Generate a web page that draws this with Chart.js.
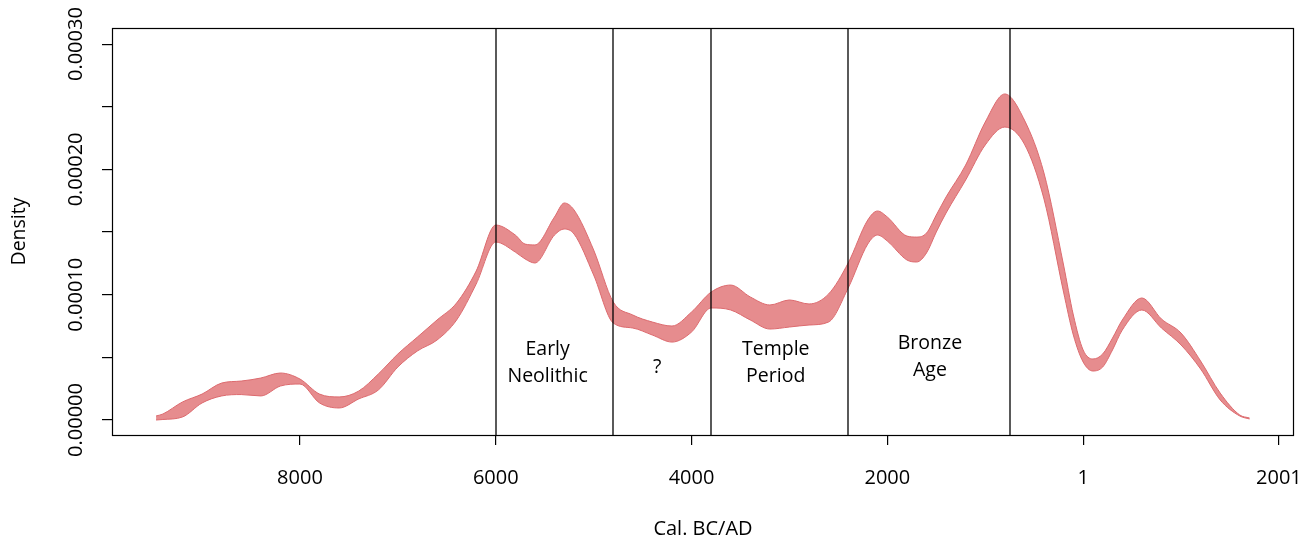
<!DOCTYPE html>
<html>
<head>
<meta charset="utf-8">
<script src="https://cdn.jsdelivr.net/npm/chart.js@4/dist/chart.umd.min.js"></script>
<style>
  html, body { margin: 0; padding: 0; background: #fff; }
  #wrap { width: 1309px; height: 542px; }
</style>
</head>
<body>
<div id="wrap"><canvas id="spd" width="1309" height="542"></canvas></div>
<script>
// calendar years (BC negative)
const years = [-9470, -9400, -9200, -9000, -8800, -8600, -8400, -8200, -8000, -7800,
  -7600, -7400, -7200, -7000, -6800, -6600, -6400, -6200, -6000, -5800,
  -5700, -5600, -5400, -5300, -5200, -5000, -4800, -4600, -4400, -4200,
  -4000, -3800, -3600, -3400, -3200, -3000, -2800, -2600, -2400, -2200,
  -2100, -2000, -1800, -1700, -1600, -1500, -1400, -1200, -1000, -800,
  -600, -400, -200, -100, 0, 100, 200, 300, 400, 600,
  800, 1000, 1200, 1400, 1600, 1700];

// upper edge of the density envelope
const upperDensity = [0.32e-5, 0.48e-5, 1.44e-5, 2.07e-5, 2.95e-5, 3.11e-5, 3.35e-5, 3.75e-5, 3.27e-5, 2.07e-5,
  1.84e-5, 2.31e-5, 3.67e-5, 5.27e-5, 6.62e-5, 7.98e-5, 9.34e-5, 11.89e-5, 15.56e-5, 14.76e-5,
  14.04e-5, 13.97e-5, 16.2e-5, 17.32e-5, 16.76e-5, 13.57e-5, 9.42e-5, 8.38e-5, 7.82e-5, 7.5e-5,
  8.62e-5, 10.21e-5, 10.77e-5, 9.82e-5, 9.18e-5, 9.58e-5, 9.26e-5, 10.06e-5, 12.53e-5, 15.96e-5,
  16.68e-5, 16.2e-5, 14.68e-5, 14.6e-5, 14.92e-5, 16.36e-5, 17.8e-5, 20.35e-5, 23.78e-5, 26.02e-5,
  23.94e-5, 19.71e-5, 12.37e-5, 8.38e-5, 5.59e-5, 4.87e-5, 5.27e-5, 6.54e-5, 7.98e-5, 9.74e-5,
  8.06e-5, 6.94e-5, 4.71e-5, 2.15e-5, 0.4e-5, 0.16e-5];

// lower edge of the density envelope
const lowerDensity = [0, 0.04e-5, 0.24e-5, 1.36e-5, 1.92e-5, 2.03e-5, 1.92e-5, 2.71e-5, 2.87e-5, 1.36e-5,
  0.96e-5, 1.68e-5, 2.39e-5, 4.23e-5, 5.51e-5, 6.38e-5, 7.98e-5, 10.85e-5, 14.2e-5, 13.4e-5,
  12.85e-5, 12.53e-5, 14.76e-5, 15.24e-5, 14.84e-5, 11.57e-5, 7.74e-5, 7.34e-5, 6.78e-5, 6.22e-5,
  7.02e-5, 8.94e-5, 8.78e-5, 7.98e-5, 7.26e-5, 7.42e-5, 7.58e-5, 7.82e-5, 10.53e-5, 14.04e-5,
  14.76e-5, 14.28e-5, 12.77e-5, 12.61e-5, 13.33e-5, 15.0e-5, 16.52e-5, 19.15e-5, 21.95e-5, 23.38e-5,
  22.02e-5, 17.64e-5, 10.21e-5, 6.78e-5, 4.63e-5, 3.91e-5, 4.23e-5, 5.59e-5, 7.18e-5, 8.78e-5,
  7.34e-5, 5.99e-5, 4.07e-5, 1.6e-5, 0.32e-5, 0.08e-5];

// axis ticks
const xTickValues = [-8000, -6000, -4000, -2000, 0, 2000];
const xTickLabels = ['8000', '6000', '4000', '2000', '1', '2001'];
const yTickValues = [0, 0.00005, 0.0001, 0.00015, 0.0002, 0.00025, 0.0003];
const yTickLabels = ['0.00000', '', '0.00010', '', '0.00020', '', '0.00030'];

// period boundaries and names
const periodBounds = [-6000, -4800, -3800, -2400, -750];
const periodNames = ['Early\nNeolithic', '?', 'Temple\nPeriod', 'Bronze\nAge'];

// where the period names sit (year, density)
const nameAnchors = [[-5470, 4.59e-5], [-4350, 4.23e-5], [-3140, 4.59e-5], [-1565, 5.03e-5]];

const FONT = '"Open Sans", "Noto Sans", sans-serif';

const overlay = {
    id: 'overlay',
    afterDatasetsDraw(chart) {
        const ctx = chart.ctx;
        const a = chart.chartArea;
        const xs = chart.scales.x;
        const ys = chart.scales.y;
        ctx.save();

        // period lines
        ctx.strokeStyle = '#000';
        ctx.lineWidth = 1.3;
        periodBounds.forEach(b => {
            const px = Math.round(xs.getPixelForValue(b));
            ctx.beginPath();
            ctx.moveTo(px, a.top);
            ctx.lineTo(px, a.bottom);
            ctx.stroke();
        });

        // period names
        ctx.fillStyle = '#000';
        ctx.font = '19.5px ' + FONT;
        ctx.textAlign = 'center';
        ctx.textBaseline = 'middle';
        periodNames.forEach((name, i) => {
            const lines = name.split('\n');
            const cx = xs.getPixelForValue(nameAnchors[i][0]);
            const cy = ys.getPixelForValue(nameAnchors[i][1]);
            lines.forEach((l, j) => {
                ctx.fillText(l, cx, cy + (j - (lines.length - 1) / 2) * 27);
            });
        });

        // box
        ctx.lineWidth = 1.2;
        ctx.strokeRect(a.left + 0.5, a.top + 0.5, a.right - a.left - 1, a.bottom - a.top);

        // y tick labels (rotated like R)
        ctx.font = '20px ' + FONT;
        yTickValues.forEach((v, i) => {
            if (!yTickLabels[i]) return;
            const py = ys.getPixelForValue(v);
            ctx.save();
            ctx.translate(76, py);
            ctx.rotate(-Math.PI / 2);
            ctx.fillText(yTickLabels[i], 0, 0);
            ctx.restore();
        });
        ctx.restore();
    }
};

new Chart(document.getElementById('spd'), {
    type: 'line',
    data: {
        datasets: [{
            label: 'lower',
            data: years.map((yr, i) => ({ x: yr, y: lowerDensity[i] })),
            borderColor: '#dc6a6e',
            borderWidth: 1,
            pointRadius: 0,
            fill: false,
            cubicInterpolationMode: 'monotone'
        }, {
            label: 'upper',
            data: years.map((yr, i) => ({ x: yr, y: upperDensity[i] })),
            borderColor: '#dc6a6e',
            borderWidth: 1,
            backgroundColor: '#e68c8e',
            pointRadius: 0,
            fill: '-1',
            cubicInterpolationMode: 'monotone'
        }]
    },
    options: {
        responsive: false,
        animation: false,
        devicePixelRatio: 1,
        layout: { padding: { left: 0, right: 15, top: 28, bottom: 0 } },
        plugins: {
            legend: { display: false },
            tooltip: { enabled: false }
        },
        scales: {
            x: {
                type: 'linear',
                min: -9920,
                max: 2154,
                afterBuildTicks: s => { s.ticks = xTickValues.map(v => ({ value: v })); },
                afterFit: s => {
                    s.height = 107;
                    s.paddingLeft = 0;
                    s.paddingRight = 0;
                },
                border: { display: false },
                grid: { drawOnChartArea: false, drawTicks: true, tickLength: 10, color: '#000', lineWidth: 1.2 },
                ticks: {
                    color: '#000',
                    padding: 21,
                    maxRotation: 0,
                    autoSkip: false,
                    font: { family: FONT, size: 20 },
                    callback: (value, index) => xTickLabels[index]
                },
                title: {
                    display: true,
                    text: 'Cal. BC/AD',
                    color: '#000',
                    font: { family: FONT, size: 20 },
                    padding: { top: 20, bottom: 1 }
                }
            },
            y: {
                type: 'linear',
                min: -0.00001197,
                max: 0.00031285,
                afterBuildTicks: s => { s.ticks = yTickValues.map(v => ({ value: v })); },
                afterFit: s => {
                    s.width = 112;
                    s.paddingTop = 0;
                    s.paddingBottom = 0;
                },
                border: { display: false },
                grid: { drawOnChartArea: false, drawTicks: true, tickLength: 10, color: '#000', lineWidth: 1.2 },
                ticks: { display: false },
                title: {
                    display: true,
                    text: 'Density',
                    color: '#000',
                    font: { family: FONT, size: 19.5 },
                    padding: { top: 8, bottom: 0 }
                }
            }
        }
    },
    plugins: [overlay]
});
</script>
</body>
</html>
